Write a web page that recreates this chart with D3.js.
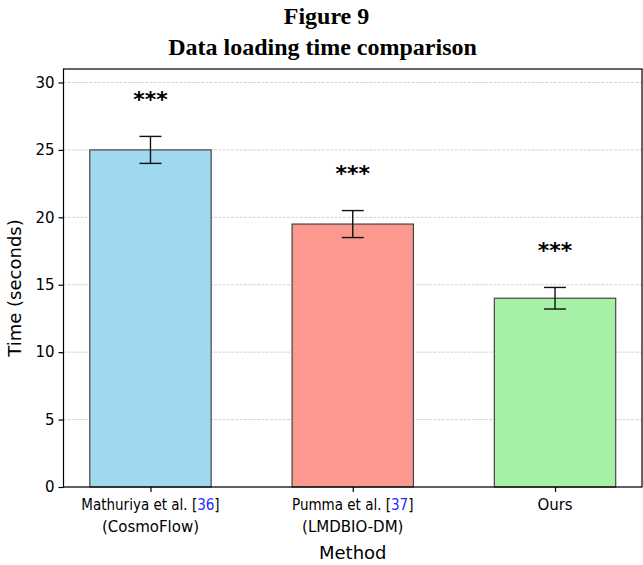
<!DOCTYPE html>
<html>
<head>
<meta charset="utf-8">
<script src="https://cdn.jsdelivr.net/npm/d3@7"></script>
<style>
  body { margin: 0; background: #fff; }
  svg { display: block; }
</style>
</head>
<body>
<div id="chart"></div>
<script>
// data
const methods = ['Mathuriya et al.', 'Pumma et al.', 'Ours']
const subLabels = ['(CosmoFlow)', '(LMDBIO-DM)', '']
const refs = ['36', '37', '']
const times = [25, 19.5, 14]
const errors = [1.0, 1.0, 0.8]
const marks = ['***', '***', '***']
const colors = ['#9fd8ef', '#fb998e', '#a6f1a6']
const yTicks = [0, 5, 10, 15, 20, 25, 30]

const width = 643
const height = 565
const margin = { top: 69, right: 1, bottom: 78, left: 63.5 }
const plotW = width - margin.left - margin.right
const plotH = height - margin.top - margin.bottom

const svg = d3.select('#chart')
  .append('svg')
  .attr('width', width)
  .attr('height', height)

// titles
svg.append('text')
  .attr('x', width / 2 + 5)
  .attr('y', 23.5)
  .attr('text-anchor', 'middle')
  .attr('font-family', '"Liberation Serif", "Times New Roman", serif')
  .attr('font-weight', 'bold')
  .attr('font-size', 24)
  .text('Figure 9')

svg.append('text')
  .attr('x', width / 2 + 1)
  .attr('y', 55)
  .attr('text-anchor', 'middle')
  .attr('font-family', '"Liberation Serif", "Times New Roman", serif')
  .attr('font-weight', 'bold')
  .attr('font-size', 24)
  .text('Data loading time comparison')

const g = svg.append('g')
  .attr('transform', `translate(${margin.left}, ${margin.top})`)

// matplotlib style: bars of width 0.6 at 0,1,2 with 5% margins
const barW = 0.6
const x = d3.scaleLinear()
  .domain([-0.43, methods.length - 1 + 0.43])
  .range([0, plotW])

const y = d3.scaleLinear()
  .domain([0, 31])
  .range([plotH, 0])

// grid
g.append('g')
  .selectAll('line')
  .data(yTicks)
  .join('line')
  .attr('x1', 0)
  .attr('x2', plotW)
  .attr('y1', d => y(d))
  .attr('y2', d => y(d))
  .attr('stroke', '#c8c8c8')
  .attr('stroke-width', 0.8)
  .attr('stroke-dasharray', '3,1.3')

// bars
g.append('g')
  .selectAll('rect')
  .data(times)
  .join('rect')
  .attr('x', (d, i) => x(i - barW / 2))
  .attr('y', d => y(d))
  .attr('width', x(barW) - x(0))
  .attr('height', d => y(0) - y(d))
  .attr('fill', (d, i) => colors[i])
  .attr('stroke', '#444')
  .attr('stroke-width', 1.2)

// error bars
const cap = 11
const eb = g.append('g')
  .selectAll('g')
  .data(times)
  .join('g')
  .attr('stroke', '#111')
  .attr('stroke-width', 1.4)

eb.append('line')
  .attr('x1', (d, i) => x(i))
  .attr('x2', (d, i) => x(i))
  .attr('y1', (d, i) => y(d - errors[i]))
  .attr('y2', (d, i) => y(d + errors[i]))

eb.append('line')
  .attr('x1', (d, i) => x(i) - cap)
  .attr('x2', (d, i) => x(i) + cap)
  .attr('y1', (d, i) => y(d + errors[i]))
  .attr('y2', (d, i) => y(d + errors[i]))

eb.append('line')
  .attr('x1', (d, i) => x(i) - cap)
  .attr('x2', (d, i) => x(i) + cap)
  .attr('y1', (d, i) => y(d - errors[i]))
  .attr('y2', (d, i) => y(d - errors[i]))

// significance marks
g.append('g')
  .selectAll('text')
  .data(marks)
  .join('text')
  .attr('x', (d, i) => x(i))
  .attr('y', (d, i) => y(times[i] + errors[i] + 1.8) - 5)
  .attr('text-anchor', 'middle')
  .attr('font-family', '"DejaVu Sans", sans-serif')
  .attr('font-weight', 'bold')
  .attr('font-size', 22)
  .text(d => d)

// y axis
const yAxis = g.append('g')
  .call(d3.axisLeft(y).tickValues(yTicks).tickSize(5).tickPadding(4))
yAxis.select('.domain').remove()
yAxis.selectAll('.tick line').attr('stroke', '#000').attr('stroke-width', 1.2)
yAxis.selectAll('.tick text')
  .attr('font-family', '"DejaVu Sans", sans-serif')
  .attr('font-size', 15)
  .attr('fill', '#000')

// x axis
const xAxis = g.append('g')
  .attr('transform', `translate(0, ${plotH})`)
  .call(d3.axisBottom(x).tickValues(d3.range(methods.length)).tickSize(5).tickFormat(''))
xAxis.select('.domain').remove()
xAxis.selectAll('.tick line').attr('stroke', '#000').attr('stroke-width', 1.2)

const xl = g.append('g')
  .selectAll('g')
  .data(methods)
  .join('g')
  .attr('transform', (d, i) => `translate(${x(i)}, ${plotH})`)
  .attr('font-family', '"DejaVu Sans", sans-serif')
  .attr('font-size', 15)
  .attr('text-anchor', 'middle')

const first = xl.append('text')
  .attr('y', 23)
  .attr('font-family', (d, i) => refs[i] ? '"DejaVu Sans Condensed", "DejaVu Sans", sans-serif' : null)
  .attr('font-stretch', (d, i) => refs[i] ? 'condensed' : null)

first.append('tspan').text((d, i) => refs[i] ? d + ' [' : d)
first.append('tspan').attr('fill', '#2a2aff').text((d, i) => refs[i])
first.append('tspan').text((d, i) => refs[i] ? ']' : '')

xl.append('text')
  .attr('y', 45)
  .text((d, i) => subLabels[i])

// frame
g.append('rect')
  .attr('width', plotW)
  .attr('height', plotH)
  .attr('fill', 'none')
  .attr('stroke', '#000')
  .attr('stroke-width', 1.2)

// axis labels
svg.append('text')
  .attr('x', margin.left + plotW / 2)
  .attr('y', 558.5)
  .attr('text-anchor', 'middle')
  .attr('font-family', '"DejaVu Sans", sans-serif')
  .attr('font-size', 18)
  .text('Method')

svg.append('text')
  .attr('transform', 'translate(20.5, 288) rotate(-90)')
  .attr('text-anchor', 'middle')
  .attr('font-family', '"DejaVu Sans", sans-serif')
  .attr('font-size', 18)
  .text('Time (seconds)')
</script>
</body>
</html>
